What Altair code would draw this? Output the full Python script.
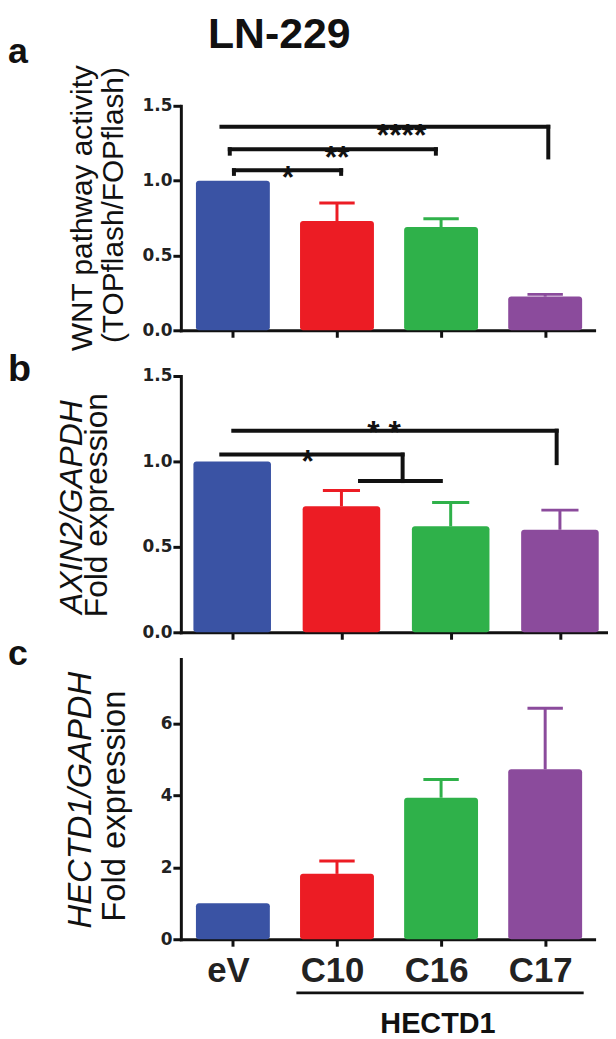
import altair as alt
import pandas as pd

# ---------------- data ----------------
cats = ["eV", "C10", "C16", "C17"]
colors = ["#3a53a4", "#ec1c24", "#2fb14a", "#8b4b9c"]

a_mean = [1.0, 0.73, 0.69, 0.225]
a_upper = [1.0, 0.85, 0.745, 0.24]
b_mean = [1.0, 0.737, 0.62, 0.60]
b_upper = [1.0, 0.83, 0.76, 0.715]
c_mean = [1.0, 1.82, 3.94, 4.73]
c_upper = [1.0, 2.18, 4.45, 6.43]

# significance brackets (data units)
a_br_x1 = [-0.11, 3.03, -0.03, -0.03, 1.95, 0.01, 0.01, 1.04]
a_br_x2 = [3.03, 3.03, 1.95, -0.03, 1.95, 1.04, 0.01, 1.04]
a_br_y1 = [1.36, 1.36, 1.21, 1.21, 1.21, 1.07, 1.07, 1.07]
a_br_y2 = [1.36, 1.155, 1.21, 1.18, 1.18, 1.07, 1.045, 1.045]
a_sig = ["****", "**", "*"]
a_sig_x = [1.62, 1.0, 0.53]
a_sig_y = [1.42, 1.27, 1.135]

b_br_x1 = [0.01, 2.97, -0.1, 1.56, 1.17]
b_br_x2 = [2.97, 2.97, 1.56, 1.56, 1.91]
b_br_y1 = [1.18, 1.18, 1.04, 1.04, 0.885]
b_br_y2 = [1.18, 0.99, 1.04, 0.885, 0.885]
b_sig = ["* *", "*"]
b_sig_x = [1.39, 0.69]
b_sig_y = [1.27, 1.10]

group_label = ["HECTD1"]
group_x = [1.97]
group_line_x1 = [0.61]
group_line_x2 = [3.37]

# ---------------- helpers ----------------
INK = "#111111"
FONT = "Liberation Sans"


def txt(s, x, y, size, angle=0, italic=False, bold=False, align="center",
        baseline="alphabetic"):
    props = dict(text=s, fontSize=size, align=align, baseline=baseline,
                 font=FONT, color=INK)
    if angle:
        props["angle"] = angle
    if italic:
        props["fontStyle"] = "italic"
    if bold:
        props["fontWeight"] = "bold"
    return alt.Chart(alt.Data(values=[{"k": 0}])).mark_text(**props).encode(
        x=alt.value(x), y=alt.value(y))


def panel(mean, upper, ydom, yvals, yfmt, xdom, width, height, xlabels,
          br=None, sig=None, extra=()):
    df = pd.DataFrame({"cat": cats, "i": list(range(len(cats))),
                       "mean": mean, "upper": upper})
    xsc = alt.Scale(domain=xdom, nice=False, zero=False)
    ysc = alt.Scale(domain=ydom, nice=False, zero=True)
    col = alt.Color("cat:N", scale=alt.Scale(domain=cats, range=colors),
                    legend=None)
    if xlabels:
        expr = "[" + ",".join("'%s'" % c for c in cats) + "][datum.value]"
        xaxis = alt.Axis(values=list(range(len(cats))), title=None, grid=False,
                         labelExpr=expr, labelFont=FONT, labelFontSize=35,
                         labelFontWeight="bold", labelColor="#222",
                         labelPadding=8, labelOffset=-5, tickSize=7, tickWidth=3,
                         domainWidth=3, domainColor=INK, tickColor=INK,
                         domainCap="square")
    else:
        xaxis = alt.Axis(values=list(range(len(cats))), title=None, grid=False,
                         labels=False, tickSize=7, tickWidth=3, domainWidth=3,
                         domainColor=INK, tickColor=INK, domainCap="square")
    yaxis = alt.Axis(values=yvals, format=yfmt, title=None, grid=False,
                     tickSize=8, tickWidth=3, domainWidth=3, domainColor=INK,
                     tickColor=INK, labelPadding=1, labelFont="DejaVu Sans",
                     labelFontWeight="bold", labelFontSize=17,
                     labelColor="#222", domainCap="square")

    def X(f):
        return alt.X(f, scale=xsc, axis=xaxis, title=None)

    def Y(f):
        return alt.Y(f, scale=ysc, axis=yaxis, title=None)

    base = alt.Chart(df)
    bars = base.transform_calculate(
        xa="datum.i - 0.355", xb="datum.i + 0.355"
    ).mark_bar(cornerRadius=3).encode(
        x=X("xa:Q"), x2="xb:Q", y=Y("mean:Q"), y2=alt.datum(0), color=col)
    stems = base.transform_filter("datum.upper > datum.mean").mark_rule(
        strokeWidth=3).encode(
        x=X("i:Q"), y=Y("mean:Q"), y2="upper:Q", color=col)
    caps = base.transform_filter("datum.upper > datum.mean").transform_calculate(
        cl="datum.i - 0.17", cr="datum.i + 0.17").mark_rule(
        strokeWidth=3).encode(
        x=X("cl:Q"), x2="cr:Q", y=Y("upper:Q"), color=col)
    layers = [bars, stems, caps]
    if br is not None:
        bdf = pd.DataFrame({"x1": br[0], "x2": br[1], "y1": br[2], "y2": br[3]})
        layers.append(alt.Chart(bdf).mark_rule(
            strokeWidth=4, color=INK, strokeCap="square").encode(
            x=X("x1:Q"), x2="x2:Q", y=Y("y1:Q"), y2="y2:Q"))
    if sig is not None:
        sdf = pd.DataFrame({"lab": sig[0], "x": sig[1], "y": sig[2]})
        layers.append(alt.Chart(sdf).mark_text(
            fontSize=32, font=FONT, fontWeight="bold", dy=18, color=INK).encode(
            x=X("x:Q"), y=Y("y:Q"), text="lab:N"))
    for e in extra:
        layers.append(e(X))
    return alt.layer(*layers).properties(width=width, height=height)


def spacer(h):
    return alt.Chart(alt.Data(values=[{"k": 0}])).mark_point(opacity=0).encode(
        x=alt.value(0), y=alt.value(0)).properties(width=10, height=h)


# ---------------- panels ----------------
XA = [-0.5, 3.47]
XB = [-0.47, 3.44]

pa = panel(a_mean, a_upper, [0, 1.5], [0, 0.5, 1.0, 1.5], ".1f", XA, 416, 226,
           False, br=(a_br_x1, a_br_x2, a_br_y1, a_br_y2),
           sig=(a_sig, a_sig_x, a_sig_y),
           extra=[lambda X: txt("WNT pathway activity", -89, 103, 30, angle=270),
                  lambda X: txt("(TOPflash/FOPflash)", -58, 100, 30, angle=270),
                  lambda X: txt("LN-229", 99, -92, 43, bold=True, baseline="top"),
                  lambda X: txt("a", -174, -43, 36, bold=True, align="left")])

pb = panel(b_mean, b_upper, [0, 1.5], [0, 0.5, 1.0, 1.5], ".1f", XB, 430, 258,
           False, br=(b_br_x1, b_br_x2, b_br_y1, b_br_y2),
           sig=(b_sig, b_sig_x, b_sig_y),
           extra=[lambda X: txt("AXIN2/GAPDH", -100, 132, 32, angle=270, italic=True),
                  lambda X: txt("Fold expression", -74, 130, 32, angle=270),
                  lambda X: txt("b", -174, 5, 38, bold=True, align="left")])


def underline(X):
    d = pd.DataFrame({"x1": group_line_x1, "x2": group_line_x2})
    return alt.Chart(d).mark_rule(strokeWidth=3, color=INK).encode(
        x=X("x1:Q"), x2="x2:Q", y=alt.value(336))


def group_text(X):
    d = pd.DataFrame({"lab": group_label, "x": group_x})
    return alt.Chart(d).mark_text(fontSize=29, font=FONT, fontWeight="bold",
                                  color=INK).encode(
        x=X("x:Q"), y=alt.value(367), text="lab:N")


pc = panel(c_mean, c_upper, [0, 7.8], [0, 2, 4, 6], "d", XA, 416, 282, True,
           extra=[lambda X: txt("HECTD1/GAPDH", -90, 142, 33, angle=270, italic=True),
                  lambda X: txt("Fold expression", -56, 148, 33, angle=270),
                  lambda X: txt("c", -174, 6, 36, bold=True, align="left"),
                  underline, group_text])

chart = alt.vconcat(pa, spacer(46), pb, spacer(27), pc, spacing=0,
                    bounds="flush").properties(
    padding={"top": 3, "left": 0, "right": 0, "bottom": 0},
    background="white").configure_view(stroke=None)

chart.save("out.html", embed_options={"renderer": "svg", "actions": False})
